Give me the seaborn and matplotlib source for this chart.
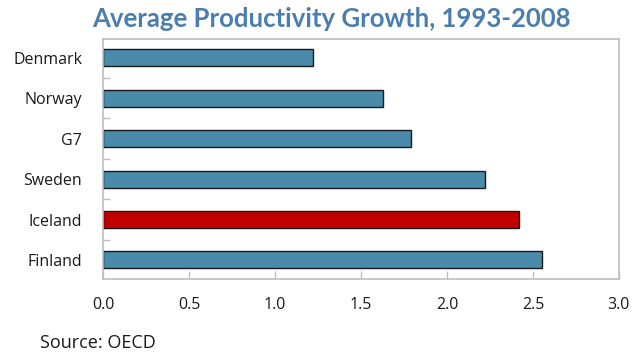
import matplotlib
matplotlib.use("Agg")
import matplotlib.pyplot as plt
import seaborn as sns
import pandas as pd
from matplotlib.ticker import FixedLocator

# Average annual labour productivity growth, 1993-2008 (%)
countries = ["Denmark", "Norway", "G7", "Sweden", "Iceland", "Finland"]
growth = [1.22, 1.63, 1.79, 2.22, 2.42, 2.55]
highlight = "Iceland"

x_ticks = [0.0, 0.5, 1.0, 1.5, 2.0, 2.5, 3.0]
x_tick_labels = ["0.0", "0.5", "1.0", "1.5", "2.0", "2.5", "3.0"]

blue = "#4A8AAB"
red = "#C00000"
title_color = "#4A7EAF"
frame_color = "#BFBFBF"

sns.set_theme(style="white")
plt.rcParams["font.family"] = ["Open Sans", "DejaVu Sans"]

df = pd.DataFrame({"country": countries, "growth": growth})
palette = {c: (red if c == highlight else blue) for c in countries}

fig = plt.figure(figsize=(6.38, 3.52), dpi=100)
ax = fig.add_axes([103 / 638, 1 - 279 / 352, (619 - 103) / 638, (279 - 39) / 352])

sns.barplot(data=df, x="growth", y="country", hue="country", palette=palette,
            order=countries, orient="h", width=0.42, legend=False,
            edgecolor="#1a1a1a", linewidth=1.0, saturation=1, ax=ax)

ax.set_xlim(0, 3.0)
ax.set_ylim(5.47, -0.46)
ax.set_xticks(x_ticks)
ax.set_xticklabels(x_tick_labels)
ax.set_xlabel("")
ax.set_ylabel("")

for side in ["top", "right", "left", "bottom"]:
    ax.spines[side].set_visible(True)
    ax.spines[side].set_color(frame_color)
    ax.spines[side].set_linewidth(1.2)

# category separator ticks on the left spine
ax.yaxis.set_minor_locator(FixedLocator([0.5, 1.5, 2.5, 3.5, 4.5]))
ax.tick_params(axis="y", which="major", length=0, pad=15, labelsize=11.5, labelcolor="#1a1a1a")
ax.tick_params(axis="y", which="minor", direction="in", length=5, width=1,
               color=frame_color, left=True)
ax.tick_params(axis="x", which="major", direction="in", length=6, width=1,
               color=frame_color, bottom=True, pad=13, labelsize=11.5, labelcolor="#1a1a1a")

fig.text(331 / 638, 1 - 27 / 352, "Average Productivity Growth, 1993-2008",
         ha="center", va="baseline", fontsize=18.5, fontweight="bold", color=title_color,
         family=["Lato", "DejaVu Sans"])
fig.text(40 / 638, 1 - 348 / 352, "Source: OECD", ha="left", va="baseline",
         fontsize=13, color="#1a1a1a")

fig.savefig("out.png", dpi=100)
